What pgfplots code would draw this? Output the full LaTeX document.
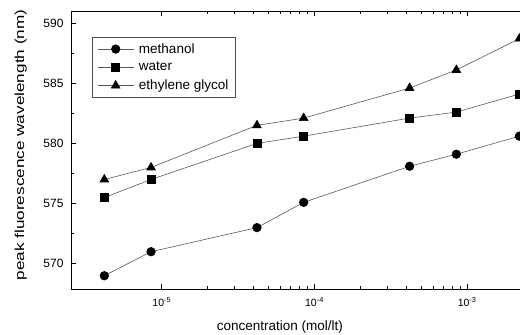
\documentclass[border=0pt]{standalone}
\usepackage{graphicx}
\usepackage{pgfplots}
\pgfplotsset{compat=1.18}
\usepackage{fontspec}
\setmainfont{Liberation Sans}
\begin{document}
\begin{tikzpicture}[x=1pt,y=1pt]
\path[use as bounding box] (0,0) rectangle (520,335);
\begin{axis}[
  at={(71pt,46pt)}, anchor=south west,
  scale only axis, width=449pt, height=278pt,
  xmode=log,
  xmin=2.54e-6, xmax=2.22e-3,
  ymin=567.9, ymax=591,
  axis y line*=left,
  axis x line*=box,
  axis line style={line width=0.9pt},
  xtick={1e-5,1e-4,1e-3},
  xticklabels={10\textsuperscript{-5},10\textsuperscript{-4},10\textsuperscript{-3}},
  ytick={570,575,580,585,590},
  minor ytick={572.5,577.5,582.5,587.5},
  tick align=inside,
  major tick length=5pt, minor tick length=3pt,
  every tick/.style={black, line width=0.8pt},
  /pgf/number format/assume math mode=true,
  xticklabel style={font=\fontsize{10.5}{12}\selectfont, yshift=-5pt},
  yticklabel style={font=\fontsize{12}{14}\selectfont, xshift=-4pt},
  xlabel={concentration (mol/lt)},
  ylabel={\scalebox{1.32}[1]{peak fluorescence wavelength (nm)}},
  xlabel style={font=\fontsize{13.5}{15}\selectfont, at={(axis description cs:0.465,-0.135)}, anchor=center},
  ylabel style={font=\fontsize{13}{15}\selectfont, at={(axis description cs:-0.112,0.518)}, anchor=center},
  clip=false,
  legend style={at={(axis description cs:0.047,0.906)}, anchor=north west,
    font=\fontsize{13.5}{15}\selectfont, draw=black!70, line width=0.6pt,
    row sep=3.5pt, inner xsep=5pt, inner ysep=4pt,
    /tikz/every odd column/.append style={column sep=3pt}},
  legend cell align=left,
  legend image code/.code={\draw[mark repeat=2,mark phase=2] plot coordinates {(0pt,0pt) (18pt,0pt) (36pt,0pt)};},
  every axis plot/.append style={color=black!65, line width=0.6pt,
    mark options={fill=black, draw=black, solid}},
]
\addplot[mark=*, mark size=4.3pt] coordinates {
 (4.2e-6,569) (8.5e-6,571) (4.2e-5,573) (8.5e-5,575.1) (4.2e-4,578.1) (8.5e-4,579.1) (2.2e-3,580.6)};
\addlegendentry{methanol}
\addplot[mark=square*, mark size=4pt] coordinates {
 (4.2e-6,575.5) (8.5e-6,577) (4.2e-5,580) (8.5e-5,580.6) (4.2e-4,582.1) (8.5e-4,582.6) (2.2e-3,584.1)};
\addlegendentry{water}
\addplot[mark=triangle*, mark size=5pt] coordinates {
 (4.2e-6,577) (8.5e-6,578) (4.2e-5,581.5) (8.5e-5,582.1) (4.2e-4,584.6) (8.5e-4,586.1) (2.2e-3,588.7)};
\addlegendentry{ethylene glycol}
\end{axis}
\end{tikzpicture}
\end{document}
